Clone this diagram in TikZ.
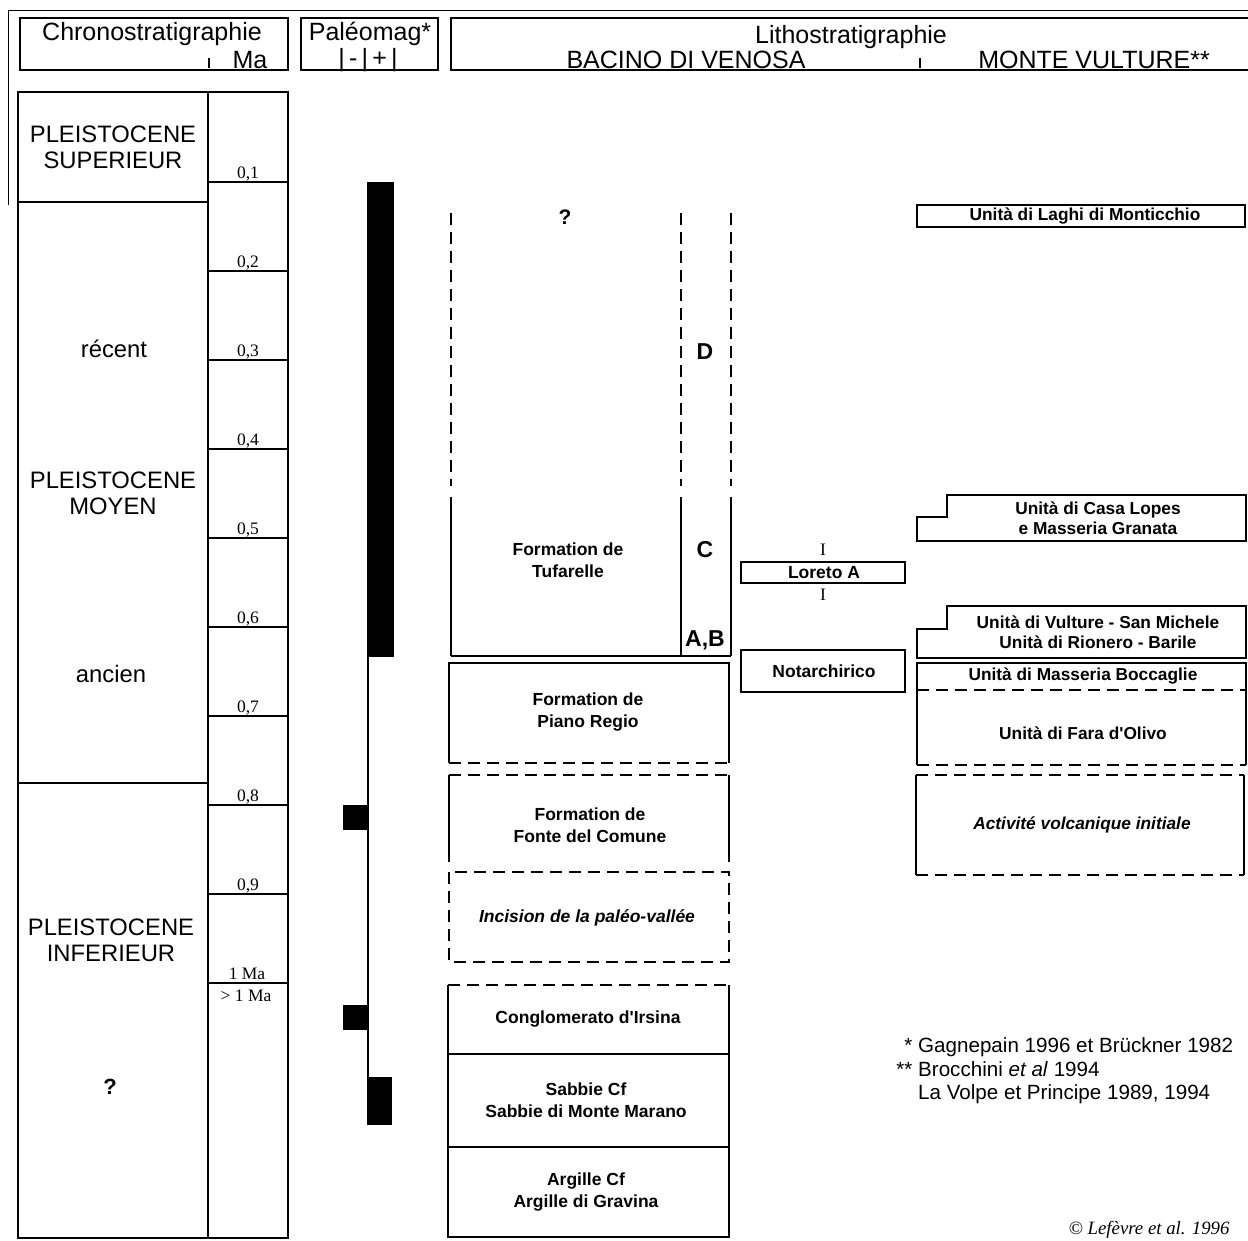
\documentclass[tikz,border=0pt]{standalone}
\usepackage{fontspec}
\setmainfont{Liberation Sans}
\newfontfamily\timesfont{Liberation Serif}
\tikzset{
    frame/.style={line width=1.5pt},
    cutline/.style={line width=1.8pt,dash pattern=on 12pt off 7pt},
    hairline/.style={line width=0.6pt},
    headtxt/.style={font=\fontsize{25}{27}\selectfont},
    eratxt/.style={font=\fontsize{23.8}{26}\selectfont,align=center},
    unittxt/.style={font=\bfseries\fontsize{17.5}{22}\selectfont,align=center},
    mvtxt/.style={font=\bfseries\fontsize{17.3}{19.5}\selectfont,align=center},
    lettxt/.style={font=\bfseries\fontsize{23}{23}\selectfont},
    agetxt/.style={font=\timesfont\fontsize{17.5}{17.5}\selectfont,anchor=base},
    foottxt/.style={font=\fontsize{20.6}{20.6}\selectfont,anchor=base west,inner sep=0pt}
}

\begin{document}
\begin{tikzpicture}[x=1pt,y=-1pt]
\useasboundingbox (0,0) rectangle (1248,1240);

\draw[hairline] (8,205) -- (8,10) -- (1248,10);

% headers
\draw[frame] (20,18) rectangle (288,70);
\draw[frame] (209,58) -- (209,68);
\node[headtxt] (chrono) at (152,34) {Chronostratigraphie};
\node[headtxt] (ma) at (250,60) {Ma};

\draw[frame] (301,18) rectangle (438,70);
\node[headtxt] (paleo) at (370,34) {Paléomag*};
\node[headtxt] (signs) at (368,60) {|\,-\,|\,+\,|};

\draw[frame] (1248,18) -- (451,18) -- (451,70) -- (1248,70);
\draw[frame] (920,58) -- (920,68);
\node[headtxt] (litho) at (851,37) {Lithostratigraphie};
\node[headtxt] (venosa) at (686,60) {BACINO DI VENOSA};
\node[headtxt] (vulture) at (1094,60) {MONTE VULTURE**};

% chronostratigraphie
\draw[frame] (18,92) rectangle (288,1238);
\draw[frame] (208,92) -- (208,1238);
\draw[frame] (18,202) -- (208,202);
\draw[frame] (18,783) -- (208,783);
\foreach \k in {1,...,9}{
  \draw[frame] (208,{182+89*(\k-1)}) -- (288,{182+89*(\k-1)});
  \node[agetxt] (age\k) at (248,{178+89*(\k-1)}) {0,\k};
}
\draw[frame] (208,983) -- (288,983);
\node[agetxt] (age10) at (247,979) {1 Ma};
\node[agetxt] (age11) at (246,1001) {> 1 Ma};

\node[eratxt] (sup) at (113,147) {PLEISTOCENE\\SUPERIEUR};
\node[eratxt] (recent) at (114,349) {récent};
\node[eratxt] (moyen) at (113,493) {PLEISTOCENE\\MOYEN};
\node[eratxt] (ancien) at (111,674) {ancien};
\node[eratxt] (inf) at (111,940) {PLEISTOCENE\\INFERIEUR};
\node[eratxt,font=\bfseries\fontsize{22}{26}\selectfont] (unk) at (110,1087) {?};

% paleomag
\draw[frame] (368,182) -- (368,1125);
\fill (368,182) rectangle (394,657);
\fill (343,805) rectangle (368,830);
\fill (343,1005) rectangle (368,1030);
\fill (367,1077) rectangle (392,1125);

% Bacino di Venosa
\foreach \x in {451,681,731}{
  \draw[cutline] (\x,213) -- (\x,486);
  \draw[frame] (\x,497) -- (\x,656);
}
\draw[frame] (451,656) -- (731,656);
\node[lettxt,font=\bfseries\fontsize{21}{21}\selectfont] (tq) at (565,217) {?};
\node[lettxt] (ud) at (705,352) {D};
\node[lettxt] (uc) at (705,550) {C};
\node[lettxt] (uab) at (705,640) {A,B};
\node[unittxt] (tuf) at (568,560) {Formation de\\Tufarelle};

\draw[frame] (449,763) -- (449,663) -- (729,663) -- (729,763);
\draw[cutline] (449,763) -- (729,763);
\node[unittxt] (piano) at (588,712) {Formation de\\Piano Regio};

\draw[cutline] (449,775) -- (729,775);
\draw[frame] (449,775) -- (449,862);
\draw[frame] (729,775) -- (729,862);
\node[unittxt] (fonte) at (590,825) {Formation de\\Fonte del Comune};

\draw[cutline] (449,872) rectangle (729,962);
\node[unittxt,font=\bfseries\itshape\fontsize{17.5}{22}\selectfont] (incis) at (587,918) {Incision de la paléo-vallée};

\draw[cutline] (448,985) -- (729,985);
\draw[frame] (448,985) -- (448,1237) -- (729,1237) -- (729,985);
\draw[frame] (448,1054) -- (729,1054);
\draw[frame] (448,1147) -- (729,1147);
\node[unittxt] (irsina) at (588,1019) {Conglomerato d\textquotesingle Irsina};
\node[unittxt] (sabbie) at (586,1100) {Sabbie Cf\\Sabbie di Monte Marano};
\node[unittxt] (argille) at (586,1192) {Argille Cf\\Argille di Gravina};

% sites
\draw[frame] (741,562) rectangle (905,583);
\node[unittxt] (loreto) at (824,573) {Loreto A};
\node[agetxt,anchor=center] (lorup) at (823,550) {I};
\node[agetxt,anchor=center] (lordn) at (823,595) {I};
\draw[frame] (741,650) rectangle (905,692);
\node[unittxt] (notar) at (824,671) {Notarchirico};

% Monte Vulture
\draw[frame] (917,205) rectangle (1245,227);
\node[mvtxt] (laghi) at (1085,216) {Unità di Laghi di Monticchio};
\draw[frame] (1246,495) -- (947,495) -- (947,517) -- (917,517) -- (917,541) -- (1246,541) -- cycle;
\node[mvtxt] (lopes) at (1098,518) {Unità di Casa Lopes\\e Masseria Granata};
\draw[frame] (1246,606) -- (947,606) -- (947,629) -- (917,629) -- (917,658) -- (1246,658) -- cycle;
\node[mvtxt] (sanmich) at (1098,632) {Unità di Vulture - San Michele\\Unità di Rionero - Barile};
\draw[frame] (917,765) -- (917,663) -- (1246,663) -- (1246,765);
\draw[cutline] (917,690) -- (1246,690);
\draw[cutline] (917,765) -- (1246,765);
\node[mvtxt] (bocc) at (1083,676) {Unità di Masseria Boccaglie};
\node[mvtxt] (fara) at (1083,733) {Unità di Fara d\textquotesingle Olivo};
\draw[cutline] (916,775) -- (1244,775);
\draw[cutline] (916,875) -- (1244,875);
\draw[frame] (916,775) -- (916,875);
\draw[frame] (1244,775) -- (1244,875);
\node[mvtxt,font=\bfseries\itshape\fontsize{17.3}{20}\selectfont] (volc) at (1082,825) {Activité volcanique initiale};

% notes
\node[foottxt] (fn1) at (918,1052) {\llap{* }Gagnepain 1996 et Brückner 1982};
\node[foottxt] (fn2) at (918,1076) {\llap{** }Brocchini \textit{et al} 1994};
\node[foottxt] (fn3) at (918,1099) {La Volpe et Principe 1989, 1994};
\node[font=\timesfont\itshape\fontsize{18.8}{18.8}\selectfont,anchor=base east] (copy) at (1233,1234) {© Lefèvre et al. 1996};
\end{tikzpicture}
\end{document}
